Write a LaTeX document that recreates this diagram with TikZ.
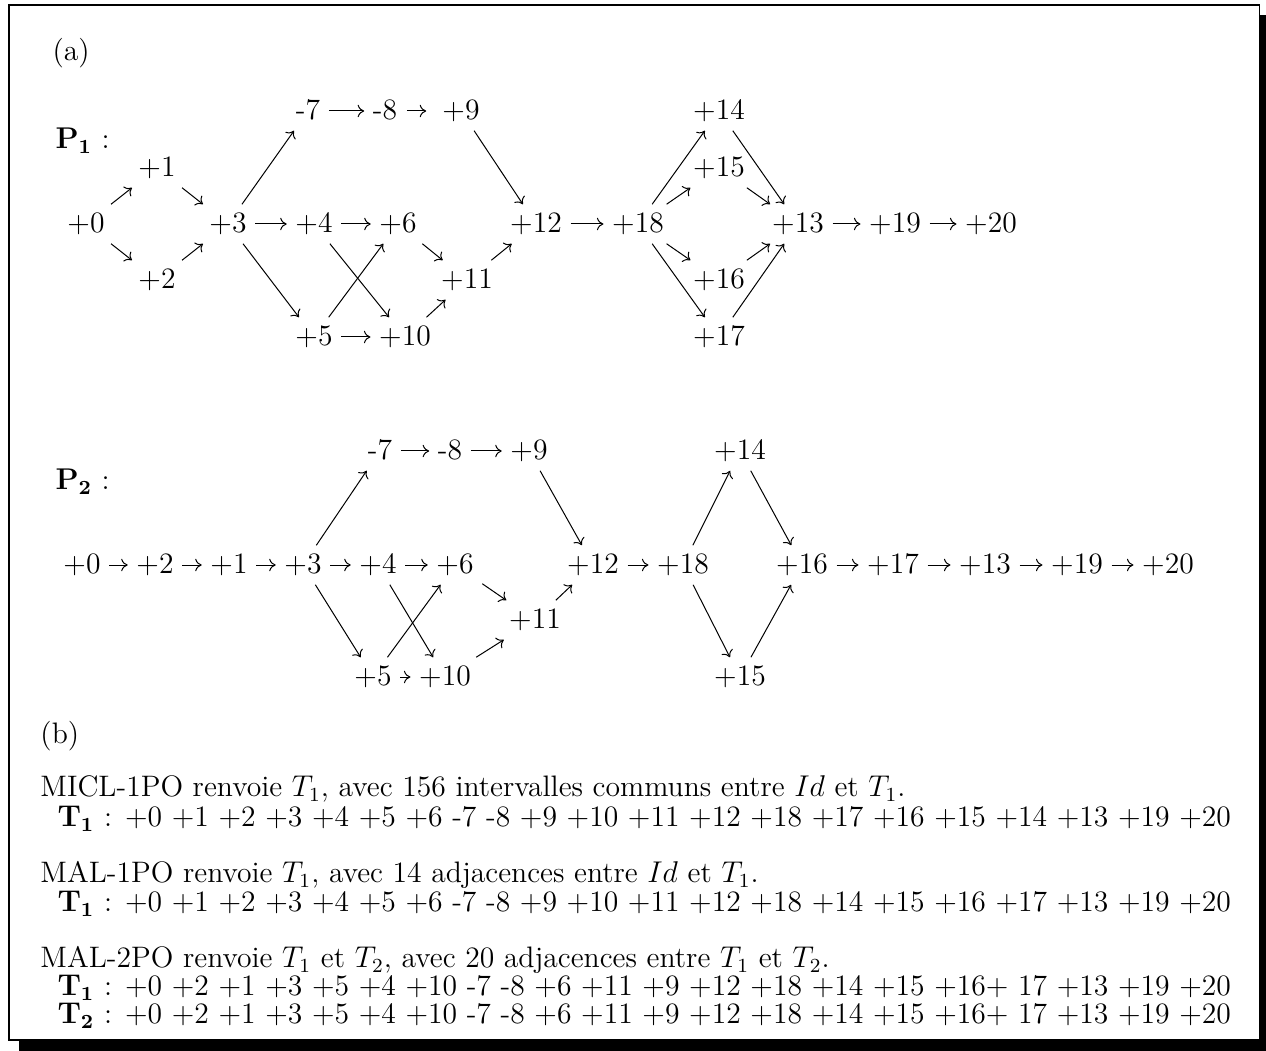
\documentclass[tikz,border=0pt]{standalone}
\usetikzlibrary{arrows.meta}
\begin{document}
\begin{tikzpicture}[x=0.4pt,y=-0.4pt,
  font=\fontsize{11.85}{14.2}\selectfont,
  v/.style={inner sep=3.3pt, text height=7.8pt, text depth=1pt},
  arr/.style={-{Computer Modern Rightarrow[length=2.6pt,width=5pt]}, line width=0.4pt},
  txt/.style={anchor=base west, inner sep=0pt},
  frame/.style={line width=0.45pt},
  shadow/.style={fill=black}]
\useasboundingbox (0,0) rectangle (1266,1051);
% frame with shadow
\fill[shadow] (1259.5,15) rectangle (1266,1051);
\fill[shadow] (19,1040) rectangle (1266,1051);
\draw[frame] (9,5) rectangle (1259.5,1040);

% labels
\node[txt] (la) at (52,61) {(a)};
\node[txt] (P1) at (55,149) {$\mathbf{P_1}$ :};
\node[txt] (P2) at (55,490) {$\mathbf{P_2}$ :};

% ---------- P1 ----------
\node[v] (n0) at (86,224) {+0};
\node[v] (n1) at (157,168) {+1};
\node[v] (n2) at (157,280) {+2};
\node[v] (n3) at (228,224) {+3};
\node[v] (n4) at (314,224) {+4};
\node[v] (n6) at (398,224) {+6};
\node[v] (m7) at (308,111) {-7};
\node[v] (m8) at (385,111) {-8};
\node[v] (p9) at (461,111) {+9};
\node[v] (n5) at (314,337) {+5};
\node[v] (n10) at (405,337) {+10};
\node[v] (n11) at (467,280) {+11};
\node[v] (n12) at (536,224) {+12};
\node[v] (n18) at (638,224) {+18};
\node[v] (n14) at (719,111) {+14};
\node[v] (n15) at (719,168) {+15};
\node[v] (n16) at (719,280) {+16};
\node[v] (n17) at (719,337) {+17};
\node[v] (n13) at (798,224) {+13};
\node[v] (n19) at (895,224) {+19};
\node[v] (n20) at (991,224) {+20};

\draw[arr] (n0) -- (n1);
\draw[arr] (n0) -- (n2);
\draw[arr] (n1) -- (n3);
\draw[arr] (n2) -- (n3);
\draw[arr] (n3) -- (m7);
\draw[arr] (n3) -- (n4);
\draw[arr] (n3) -- (n5);
\draw[arr] (m7) -- (m8);
\draw[arr, shorten <=0.4pt, shorten >=3pt] (m8) -- (p9);
\draw[arr] (n4) -- (n6);
\draw[arr] (n4) -- (n10);
\draw[arr] (n5) -- (n6);
\draw[arr] (n5) -- (n10);
\draw[arr] (n6) -- (n11);
\draw[arr] (n10) -- (n11);
\draw[arr] (n11) -- (n12);
\draw[arr] (p9) -- (n12);
\draw[arr] (n12) -- (n18);
\draw[arr] (n18) -- (n14);
\draw[arr] (n18) -- (n15);
\draw[arr] (n18) -- (n16);
\draw[arr] (n18) -- (n17);
\draw[arr] (n14) -- (n13);
\draw[arr] (n15) -- (n13);
\draw[arr] (n16) -- (n13);
\draw[arr] (n17) -- (n13);
\draw[arr] (n13) -- (n19);
\draw[arr] (n19) -- (n20);

% ---------- P2 ----------
\node[v] (q0) at (82,565) {+0};
\node[v] (q2) at (155,565) {+2};
\node[v] (q1) at (229,565) {+1};
\node[v] (q3) at (303,565) {+3};
\node[v] (q4) at (378,565) {+4};
\node[v] (q6) at (455,565) {+6};
\node[v] (r7) at (380,451) {-7};
\node[v] (r8) at (450,451) {-8};
\node[v] (r9) at (529,451) {+9};
\node[v] (q5) at (373,677) {+5};
\node[v] (q10) at (445,677) {+10};
\node[v] (q11) at (535,620) {+11};
\node[v] (q12) at (593,565) {+12};
\node[v] (q18) at (683,565) {+18};
\node[v] (q14) at (740,451) {+14};
\node[v] (q15) at (740,677) {+15};
\node[v] (q16) at (802,565) {+16};
\node[v] (q17) at (893,565) {+17};
\node[v] (q13) at (985,565) {+13};
\node[v] (q19) at (1077,565) {+19};
\node[v] (q20) at (1168,565) {+20};

\draw[arr] (q0) -- (q2);
\draw[arr] (q2) -- (q1);
\draw[arr] (q1) -- (q3);
\draw[arr] (q3) -- (q4);
\draw[arr] (q4) -- (q6);
\draw[arr] (q3) -- (r7);
\draw[arr] (r7) -- (r8);
\draw[arr] (r8) -- (r9);
\draw[arr] (q3) -- (q5);
\draw[arr] (q4) -- (q10);
\draw[arr] (q5) -- (q6);
\draw[arr] (q5) -- (q10);
\draw[arr] (q6) -- (q11);
\draw[arr] (q10) -- (q11);
\draw[arr] (q11) -- (q12);
\draw[arr] (r9) -- (q12);
\draw[arr] (q12) -- (q18);
\draw[arr] (q18) -- (q14);
\draw[arr] (q18) -- (q15);
\draw[arr] (q14) -- (q16);
\draw[arr] (q15) -- (q16);
\draw[arr] (q16) -- (q17);
\draw[arr] (q17) -- (q13);
\draw[arr] (q13) -- (q19);
\draw[arr] (q19) -- (q20);

% ---------- (b) ----------
\node[txt] (lb) at (40,743) {(b)};
\node[txt] (t1) at (40,796.5) {MICL-1PO renvoie $T_1$, avec 156 intervalles communs entre $Id$ et $T_1$.};
\node[txt] (t2) at (57,826.5) {$\mathbf{T_1}$ : +0 +1 +2 +3 +4 +5 +6 -7 -8 +9 +10 +11 +12 +18 +17 +16 +15 +14 +13 +19 +20};
\node[txt] (t3) at (40,882.5) {MAL-1PO renvoie $T_1$, avec 14 adjacences entre $Id$ et $T_1$.};
\node[txt] (t4) at (57,911.5) {$\mathbf{T_1}$ : +0 +1 +2 +3 +4 +5 +6 -7 -8 +9 +10 +11 +12 +18 +14 +15 +16 +17 +13 +19 +20};
\node[txt] (t5) at (40,967.5) {MAL-2PO renvoie $T_1$ et $T_2$, avec 20 adjacences entre $T_1$ et $T_2$.};
\node[txt] (t6) at (57,995.5) {$\mathbf{T_1}$ : +0 +2 +1 +3 +5 +4 +10 -7 -8 +6 +11 +9 +12 +18 +14 +15 +16+ 17 +13 +19 +20};
\node[txt] (t7) at (57,1023.5) {$\mathbf{T_2}$ : +0 +2 +1 +3 +5 +4 +10 -7 -8 +6 +11 +9 +12 +18 +14 +15 +16+ 17 +13 +19 +20};
\end{tikzpicture}
\end{document}
